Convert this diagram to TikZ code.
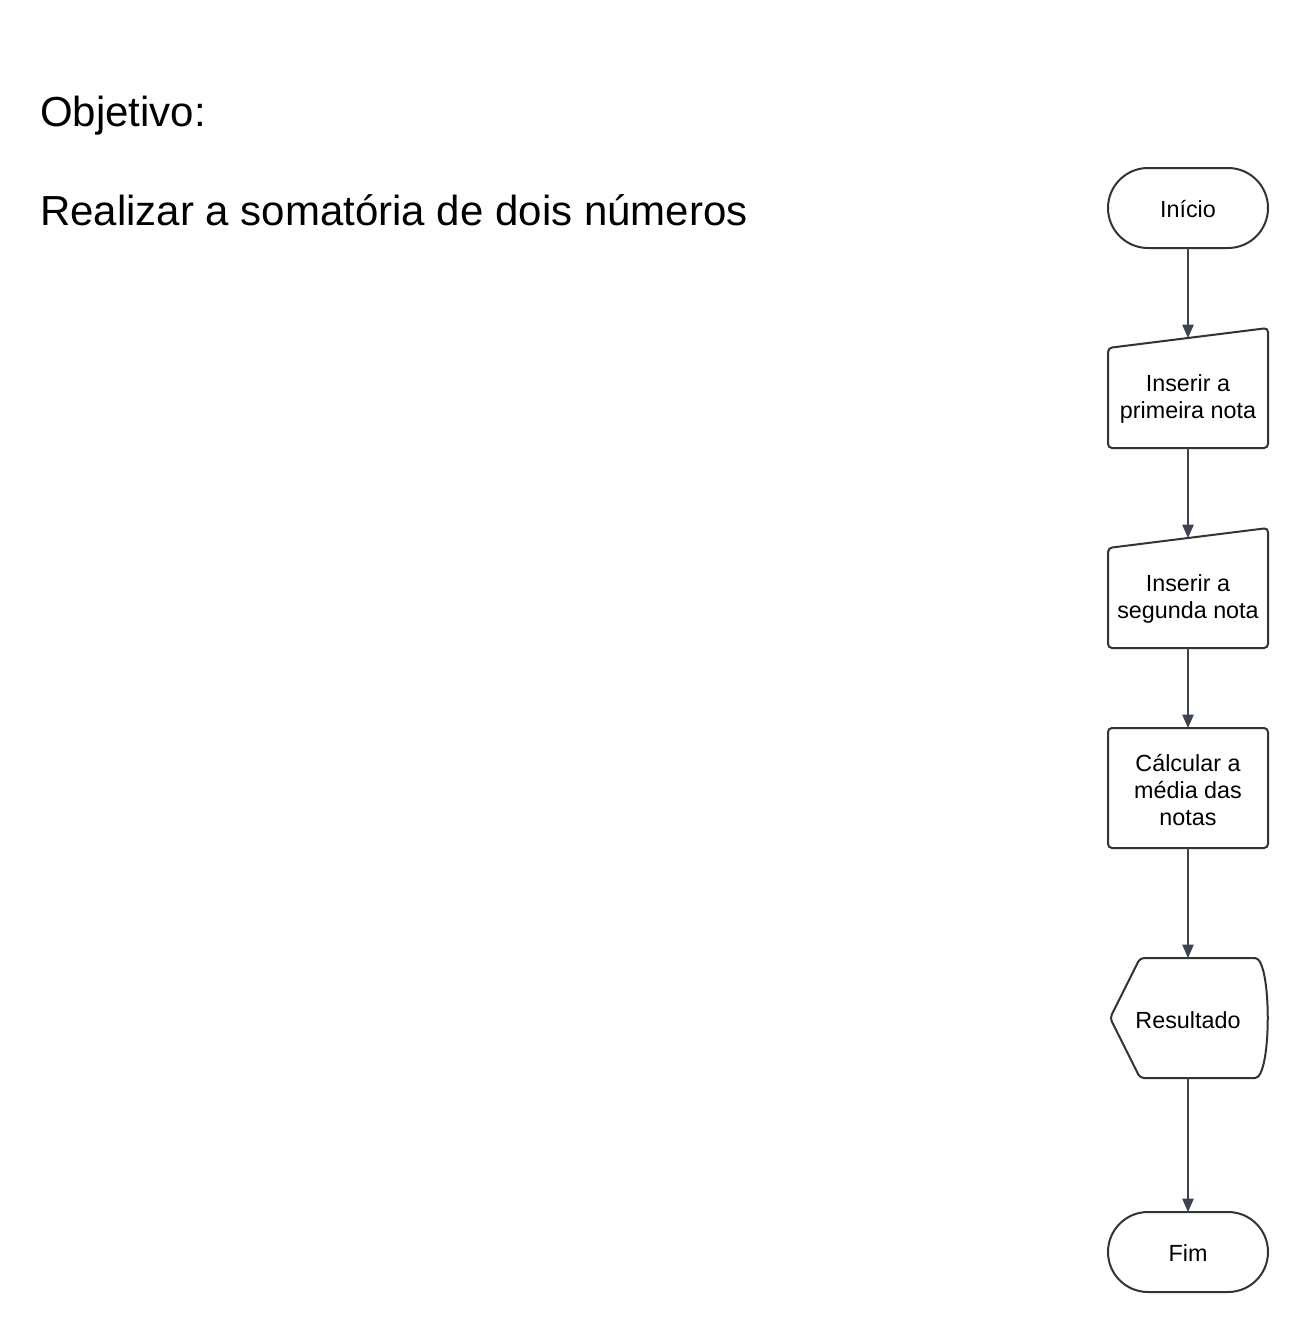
\documentclass[tikz,border=0pt]{standalone}
\usepackage{fontspec}
\setmainfont{Liberation Sans}
\usetikzlibrary{arrows.meta}
\definecolor{shapeline}{HTML}{333333}
\definecolor{arrowline}{HTML}{3D4451}
\begin{document}
\begin{tikzpicture}[x=0.75pt,y=-0.75pt,
  shp/.style={draw=shapeline,line width=1.5pt,fill=white},
  lbl/.style={align=center,font=\fontsize{17.5}{20}\selectfont,text=black,inner sep=0pt},
  conn/.style={draw=arrowline,line width=1.1pt,-{Triangle[length=10pt,width=8.5pt]}},
  ttl/.style={anchor=base west,font=\fontsize{31.5}{36}\selectfont,inner sep=0pt}]
\useasboundingbox[fill=white] (0,0) rectangle (1308,1331);

% title texts
\node[ttl] (obj) at (40,127) {Objetivo:};
\node[ttl] (real) at (40,225) {Realizar a somatória de dois números};

% shapes
\draw[shp,rounded corners=30pt] (1108,168) rectangle (1268,248);
\node[lbl] (inicio) at (1188,209) {Início};

\draw[shp,rounded corners=3pt] (1108,348) -- (1268,328) -- (1268,448) -- (1108,448) -- cycle;
\node[lbl] (nota1) at (1188,399) {Inserir a\\primeira nota};

\draw[shp,rounded corners=3pt] (1108,548) -- (1268,528) -- (1268,648) -- (1108,648) -- cycle;
\node[lbl] (nota2) at (1188,599) {Inserir a\\segunda nota};

\draw[shp,rounded corners=3pt] (1108,728) rectangle (1268,848);
\node[lbl] (calc) at (1188,790) {Cálcular a\\média das\\notas};

\draw[shp] (1255,958) .. controls (1272,958) and (1272,1078) .. (1255,1078)
  [rounded corners=3pt] -- (1140,1078) -- (1110,1018) -- (1140,958) -- (1255,958);
\node[lbl] (res) at (1188,1020) {Resultado};

\draw[shp,rounded corners=30pt] (1108,1212) rectangle (1268,1292);
\node[lbl] (fim) at (1188,1253) {Fim};

% connector end points
\coordinate (c1b) at (1188,248);
\coordinate (c2t) at (1188,338);
\coordinate (c2b) at (1188,448);
\coordinate (c3t) at (1188,538);
\coordinate (c3b) at (1188,648);
\coordinate (c4t) at (1188,728);
\coordinate (c4b) at (1188,848);
\coordinate (c5t) at (1188,958);
\coordinate (c5b) at (1188,1078);
\coordinate (c6t) at (1188,1212);

\draw[conn] (c1b) -- (c2t);
\draw[conn] (c2b) -- (c3t);
\draw[conn] (c3b) -- (c4t);
\draw[conn] (c4b) -- (c5t);
\draw[conn] (c5b) -- (c6t);
\end{tikzpicture}
\end{document}
